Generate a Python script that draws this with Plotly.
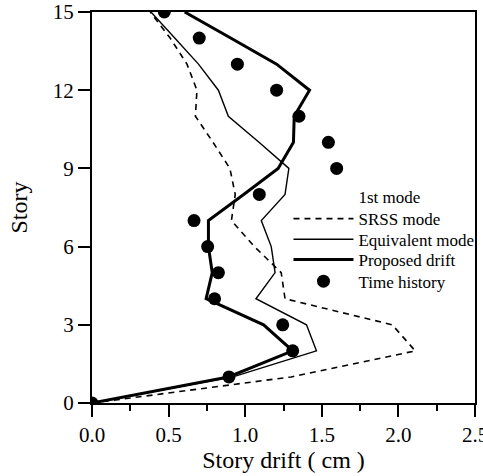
import plotly.graph_objects as go

# Story levels (0 = base, 15 = roof)
stories = list(range(16))

# Inter-story drift profiles (cm)
srss_mode = [0.0, 1.30, 2.11, 1.96, 1.26, 1.235, 1.06, 0.91, 0.935, 0.90,
             0.79, 0.675, 0.685, 0.62, 0.51, 0.38]
equivalent_mode = [0.0, 0.92, 1.465, 1.40, 1.07, 1.195, 1.17, 1.105, 1.26, 1.285,
                   1.09, 0.89, 0.825, 0.695, 0.54, 0.385]
proposed_drift = [0.0, 0.89, 1.31, 1.12, 0.745, 0.785, 0.76, 0.76, 0.99, 1.215,
                  1.315, 1.32, 1.42, 1.205, 0.905, 0.605]
time_history = [0.0, 0.894, 1.31, 1.245, 0.80, 0.825, 0.755, 0.666, 1.092, 1.597,
                1.543, 1.351, 1.205, 0.949, 0.70, 0.472]

x_ticks = [0.0, 0.5, 1.0, 1.5, 2.0, 2.5]
x_tick_text = ["0.0", "0.5", "1.0", "1.5", "2.0", "2.5"]
y_ticks = [0, 3, 6, 9, 12, 15]

FONT = "Liberation Serif, Times New Roman, serif"
LEGEND_FONT = dict(family=FONT, size=17, color="black")

fig = go.Figure()

# One legend box per entry so rows sit on a tight, even pitch
fig.add_trace(go.Scatter(x=[None], y=[None], mode="lines", name="1st mode",
                         line=dict(color="rgba(0,0,0,0)", width=0),
                         legend="legend"))
fig.add_trace(go.Scatter(x=srss_mode, y=stories, mode="lines", name="SRSS mode",
                         line=dict(color="black", width=1.6, dash="6px,5px"),
                         legend="legend2"))
fig.add_trace(go.Scatter(x=equivalent_mode, y=stories, mode="lines", name="Equivalent mode",
                         line=dict(color="black", width=1.4),
                         legend="legend3"))
fig.add_trace(go.Scatter(x=proposed_drift, y=stories, mode="lines", name="Proposed drift",
                         line=dict(color="black", width=3),
                         legend="legend4"))
fig.add_trace(go.Scatter(x=time_history, y=stories, mode="markers", name="Time history",
                         marker=dict(color="black", size=13),
                         legend="legend5"))

legend_x = 0.513
row_y = [0.527, 0.4705, 0.4175, 0.366, 0.3105]


def legend_box(y):
    return dict(x=legend_x, y=y, xanchor="left", yanchor="middle",
                bgcolor="rgba(0,0,0,0)", borderwidth=0,
                font=LEGEND_FONT, itemwidth=60)


fig.update_layout(
    width=483, height=476,
    margin=dict(l=92, r=8, t=12, b=73, autoexpand=False),
    paper_bgcolor="white", plot_bgcolor="white",
    font=dict(family=FONT, color="black", size=20),
    showlegend=True,
    legend=legend_box(row_y[0]),
    legend2=legend_box(row_y[1]),
    legend3=legend_box(row_y[2]),
    legend4=legend_box(row_y[3]),
    legend5=legend_box(row_y[4]),
)

fig.update_xaxes(
    range=[0, 2.5], tickvals=x_ticks, ticktext=x_tick_text,
    showgrid=False, zeroline=False, automargin=False,
    showline=True, linecolor="black", linewidth=2, mirror=True,
    ticks="outside", ticklen=12, tickwidth=2, tickcolor="black",
    ticklabeloverflow="allow",
    minor=dict(dtick=0.25, ticks="outside", ticklen=6, tickwidth=2, tickcolor="black"),
    tickfont=dict(family=FONT, size=21),
    title=dict(text="Story drift ( cm )", font=dict(family=FONT, size=24), standoff=2),
)
fig.update_yaxes(
    range=[0, 15], tickvals=y_ticks,
    showgrid=False, zeroline=False, automargin=False,
    showline=True, linecolor="black", linewidth=2, mirror=True,
    ticks="outside", ticklen=12, tickwidth=2, tickcolor="black",
    tickfont=dict(family=FONT, size=21),
    title=dict(text="Story", font=dict(family=FONT, size=24), standoff=18),
)

fig.write_html("out.html")
